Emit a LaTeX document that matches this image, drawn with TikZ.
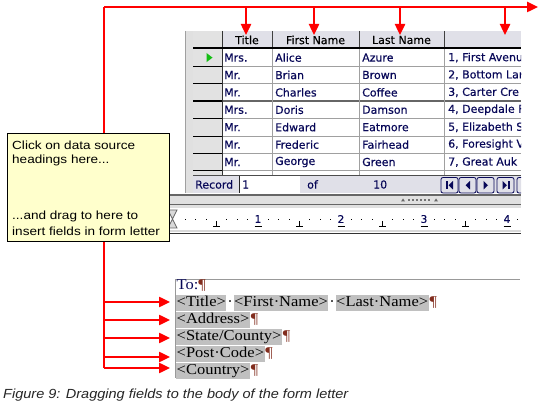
\documentclass[tikz,border=0pt]{standalone}
\usepackage{fontspec}
\setmainfont{Liberation Serif}
\newfontfamily\docfont[FakeStretch=1.1]{Liberation Serif}
\newfontfamily\tabfont[FakeBold=0.4]{DejaVu Sans}
\newfontfamily\uifont[FakeStretch=1.1]{Liberation Sans}
\newfontfamily\tipfont[FakeStretch=1.15]{Liberation Sans}
\usetikzlibrary{arrows.meta,positioning}
\definecolor{navy}{RGB}{8,8,88}
\definecolor{hdrgray}{RGB}{224,224,232}
\definecolor{rowgray}{RGB}{226,226,226}
\definecolor{gridgray}{RGB}{160,160,160}
\definecolor{tipyellow}{RGB}{255,255,204}
\definecolor{fieldgray}{RGB}{192,192,192}
\definecolor{pilcrow}{RGB}{130,45,30}
\definecolor{arrowred}{RGB}{255,0,0}
\definecolor{rowgreen}{RGB}{20,190,20}
\begin{document}
\begin{tikzpicture}[x=1pt,y=-1pt,
  redline/.style={draw=arrowred,line width=2.4pt},
  redarrow/.style={redline,-{Triangle[length=11pt,width=10pt]}},
  hdr/.style={font=\tabfont\fontsize{11}{13}\selectfont,text=black,inner sep=0pt},
  cell/.style={font=\tabfont\fontsize{11}{13}\selectfont,text=navy,anchor=west,inner sep=0pt},
  field/.style={fill=fieldgray,font=\docfont\fontsize{15}{17}\selectfont,text height=10.5pt,text depth=3.5pt,inner xsep=0.5pt,inner ysep=1pt,anchor=west},
  plaintext/.style={font=\docfont\fontsize{15}{17}\selectfont,text height=10.5pt,text depth=3.5pt,inner xsep=0.5pt,inner ysep=1pt,anchor=west},
  tiptext/.style={font=\tipfont\fontsize{11.8}{14}\selectfont,anchor=west,inner sep=0pt,text=black},
  navbtn/.style={draw=navy,fill=hdrgray,rounded corners=2pt,line width=0.8pt},
  rulernum/.style={font=\tabfont\fontsize{10.5}{12}\selectfont,text=navy,inner sep=0pt},
]
\useasboundingbox (0,0) rectangle (544,414);
\fill[white] (0,0) rectangle (544,414);

% ---------------- data source window ----------------
\begin{scope}
\clip (165,0) rectangle (521,240);
% left frame strip
\fill[black!12] (185,31) rectangle (193,193);
\draw[gridgray] (185.5,31) -- (185.5,193);
% row header column and header row
\fill[rowgray] (193,31) rectangle (222,175);
\fill[hdrgray] (222,31) rectangle (521,48);
\fill[white] (222,49) rectangle (521,175);
% grid
\foreach \k in {1,...,7}{
  \pgfmathsetmacro\yy{48.9+17.4*\k}
  \draw[gridgray] (222,\yy) -- (521,\yy);
  \draw[black] (193,\yy) -- (222,\yy);
}
\draw[black!60,line width=1.4pt] (222,101.1) -- (521,101.1);
\draw[black,line width=1.6pt] (193,101.1) -- (222,101.1);
\foreach \xx in {272,359,444}{
  \draw[gridgray] (\xx,49) -- (\xx,175);
  \draw[black!75] (\xx,31) -- (\xx,48);
}
\draw[black!80] (222,31) -- (222,175);
\draw[black,line width=2pt] (193,48.5) -- (521,48.5);
% header texts
\node[hdr] (hT) at (247,40) {Title};
\node[hdr] (hF) at (315.5,40) {First Name};
\node[hdr] (hL) at (401.5,40) {Last Name};
% current-row marker
\fill[rowgreen] (206.5,53) -- (212.5,57.6) -- (206.5,62.2) -- cycle;
% data rows
\begin{scope}
\clip (222,49) rectangle (521,171);
\foreach \tt/\ff/\ll/\aa [count=\i from 0] in {
  {Mrs./Alice/Azure/1, First Avenu},
  {Mr./Brian/Brown/2, Bottom Lar},
  {Mr./Charles/Coffee/3, Carter Cre},
  {Mrs./Doris/Damson/4, Deepdale F},
  {Mr./Edward/Eatmore/5, Elizabeth S},
  {Mr./Frederic/Fairhead/6, Foresight V},
  {Mr./George/Green/7, Great Auk}}{
  \pgfmathsetmacro\yy{57.6+17.4*\i}
  \node[cell] (t\i) at (224,\yy) {\tt};
  \node[cell] (f\i) at (275,\yy) {\ff};
  \node[cell] (l\i) at (362,\yy) {\ll};
  \node[cell] (a\i) at (448,\yy) {\aa};
}
\end{scope}
% record bar
\fill[hdrgray] (193,175) rectangle (521,193);
\draw[black!70] (193,175) -- (521,175);
\fill[white] (240,176) rectangle (300,193);
\draw[black!85,line width=1pt] (239.5,176) -- (239.5,193);
\node[cell] (rec) at (195,184.5) {Record};
\node[cell] (recn) at (242,184.5) {1};
\node[cell] (recof) at (307,184.5) {of};
\node[cell] (rectot) at (373,184.5) {10};
% navigation buttons
\foreach \bx [count=\b] in {441,459,477,497,517}{
  \draw[navbtn] (\bx,177.5) rectangle ++(17,15.5);
}
\fill[navy] (446,181) rectangle (447.5,189.5);
\fill[navy] (453,181) -- (453,189.5) -- (448.5,185.25) -- cycle;
\fill[navy] (470,181) -- (470,189.5) -- (465.5,185.25) -- cycle;
\fill[navy] (483.5,181) -- (483.5,189.5) -- (488,185.25) -- cycle;
\fill[navy] (502.5,181) -- (502.5,189.5) -- (507,185.25) -- cycle;
\fill[navy] (508,181) rectangle (509.5,189.5);
% splitter and ruler
\fill[black!60] (170,194) rectangle (521,196);
\fill[black!12] (170,196) rectangle (521,204);
\foreach \mx in {408,412,416,420,424,428}{ \fill[black!55] (\mx,199.5) rectangle ++(2,1.5); }
\fill[black!60] (401,201.5) -- (405,201.5) -- (403,198.5) -- cycle;
\fill[black!60] (434,201.5) -- (438,201.5) -- (436,198.5) -- cycle;
\fill[black!60] (170,204) rectangle (521,205.5);
\fill[black!12] (170,205.5) rectangle (521,208);
\fill[white] (170,208) rectangle (521,230);
\fill[black!15] (170,230) rectangle (521,232);
\draw[black!80] (170,233) -- (521,233);
% ruler dots
\foreach \k in {1,2,3,5,6,7,9,10,11,13,14,15,17,18,19,21,22,23,25,26,27,29,30,31,33}{
  \fill[black] ({175+10.375*\k-0.5},218.8) rectangle ++(1,1);
}
% half-inch ticks
\foreach \tx in {216.5,299.5,382.5,465.5}{
  \draw[black] (\tx,221) -- (\tx,226.5);
  \draw[black] (\tx-3.5,226.5) -- (\tx+3.5,226.5);
}
% inch numbers
\foreach \nx/\nn in {258/1,341/2,424/3,507/4}{
  \draw[black] (\nx-3.5,226.5) -- (\nx+3.5,226.5);
  \node[rulernum] (rn\nn) at (\nx,219) {\nn};
}
% indent marker
\filldraw[fill=black!15,draw=black!60,line width=0.8pt]
  (168,210) -- (177,210) -- (172.5,219) -- (177,228) -- (168,228) -- (172.5,219) -- cycle;
\end{scope}

% ---------------- document area ----------------
\draw[black!40,line width=1pt] (175,280) -- (520,280);
\draw[black!40,line width=1pt] (175,280) -- (175,378);
\node[plaintext,text=navy] (to) at (176,286) {To:\textcolor{pilcrow}{¶}};
\node[field] (fT) at (176,303) {<Title>};
\node[plaintext,right=0pt of fT] (s1) {·};
\node[field,right=0pt of s1] (fF) {<First·Name>};
\node[plaintext,right=0pt of fF] (s2) {·};
\node[field,right=0pt of s2] (fL) {<Last·Name>};
\node[plaintext,right=0pt of fL,text=pilcrow] (p1) {¶};
\node[field] (fA) at (176,320) {<Address>};
\node[plaintext,right=0pt of fA,text=pilcrow] (p2) {¶};
\node[field] (fS) at (176,337) {<State/County>};
\node[plaintext,right=0pt of fS,text=pilcrow] (p3) {¶};
\node[field] (fP) at (176,354) {<Post·Code>};
\node[plaintext,right=0pt of fP,text=pilcrow] (p4) {¶};
\node[field] (fC) at (176,371) {<Country>};
\node[plaintext,right=0pt of fC,text=pilcrow] (p5) {¶};

% ---------------- red arrows ----------------
\coordinate (lc) at (104,7);
\coordinate (lb) at (104,368);
\coordinate (re) at (538,7);
\draw[redline] (lb) -- (lc);
\draw[redarrow] (lc) -- (re);
\foreach \dx [count=\d] in {246,314,400,505}{
  \coordinate (dtop\d) at (\dx,7);
  \coordinate (dtip\d) at (\dx,35);
  \draw[redarrow] (dtop\d) -- (dtip\d);
}
\foreach \ay [count=\a] in {302,320,338,357,368}{
  \coordinate (vl\a) at (104,\ay);
  \coordinate (vt\a) at (170,\ay);
  \draw[redarrow] (vl\a) -- (vt\a);
}

% ---------------- tooltip box ----------------
\node[draw=black,fill=tipyellow,line width=0.8pt,minimum width=162pt,minimum height=108pt,anchor=north west,inner sep=0pt] (tip) at (7,133) {};
\node[tiptext] (tip1) at (12,145) {Click on data source};
\node[tiptext] (tip2) at (12,160.5) {headings here...};
\node[tiptext] (tip3) at (12,216) {...and drag to here to};
\node[tiptext] (tip4) at (12,231.5) {insert fields in form letter};

% ---------------- caption ----------------
\node[font=\uifont\itshape\fontsize{13.2}{15}\selectfont,anchor=west,inner sep=0pt,text=black!85] (cap) at (3,395) {Figure 9: Dragging fields to the body of the form letter};
\end{tikzpicture}
\end{document}
